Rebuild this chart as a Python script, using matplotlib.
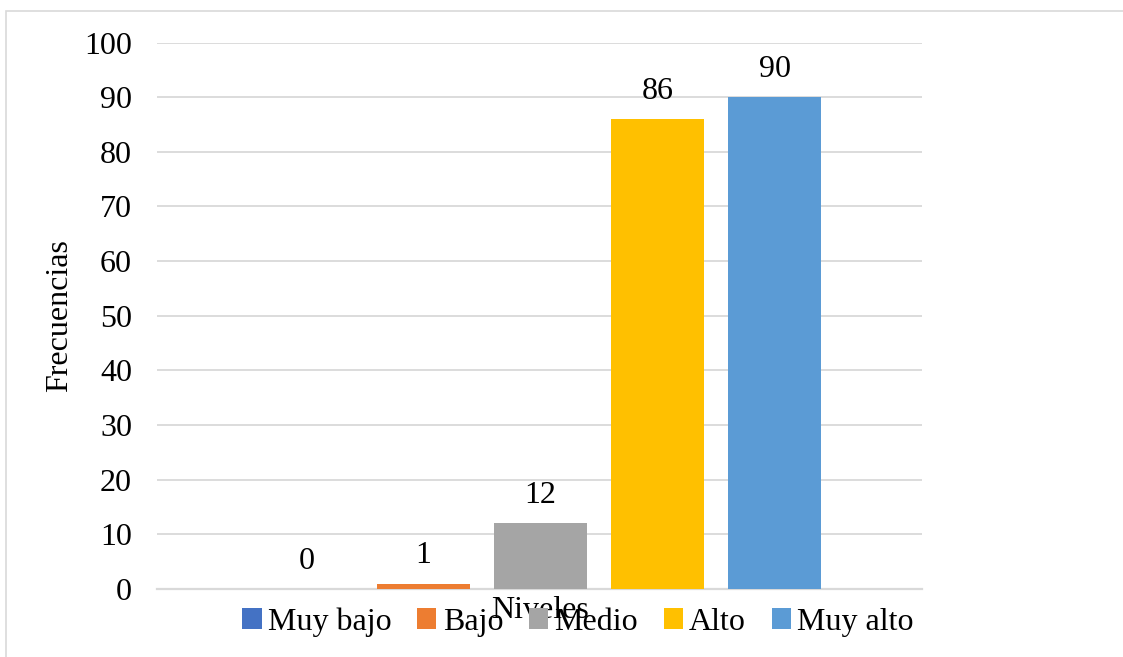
import matplotlib
matplotlib.use("Agg")
import matplotlib.pyplot as plt
from matplotlib.patches import Rectangle, Patch

niveles = ["Muy bajo", "Bajo", "Medio", "Alto", "Muy alto"]
frecuencias = [0, 1, 12, 86, 90]
colores = ["#4472C4", "#ED7D31", "#A5A5A5", "#FFC000", "#5B9BD5"]
yticks = [0, 10, 20, 30, 40, 50, 60, 70, 80, 90, 100]

plt.rcParams['font.family'] = ['Liberation Serif', 'DejaVu Serif']
FS = 23

W, H = 1123, 657
fig = plt.figure(figsize=(W / 100, H / 100), dpi=100)
fig.patch.set_facecolor("white")

# outer border
fig.patches.append(Rectangle((6 / W, -0.1), 1.2, 1 - 11 / H + 0.1, transform=fig.transFigure,
                             fill=False, edgecolor="#D9D9D9", linewidth=1.2))

ax = fig.add_axes([157 / W, 68 / H, 765 / W, 546.5 / H])
width = 0.795
n = len(niveles)
for i, (lab, v, c) in enumerate(zip(niveles, frecuencias, colores)):
    x = i - (n - 1) / 2
    ax.bar(x, v, width=width, color=c, label=lab, zorder=3)
    ax.text(x, v + 2.4, str(v), ha="center", va="bottom", fontsize=FS, color="black", zorder=4)

ax.set_xlim(-3.278, 3.26)
ax.set_ylim(0, 100)
ax.set_yticks(yticks)
ax.set_yticklabels([str(t) for t in yticks], fontsize=FS)
ax.tick_params(axis="y", length=0, pad=18)
ax.set_xticks([])
ax.grid(axis="y", color="#D9D9D9", linewidth=1.3, zorder=0)
for s in ["top", "right", "left"]:
    ax.spines[s].set_visible(False)
ax.spines["bottom"].set_color("#D9D9D9")
ax.spines["bottom"].set_linewidth(1.6)
ax.spines["bottom"].set_zorder(2)

fig.text(60 / W, 1 - 316 / H, "Frecuencias", rotation=90, ha="center", va="center", fontsize=FS)
fig.text(540 / W, 1 - 610 / H, "Niveles", ha="center", va="center", fontsize=FS)

handles = [Patch(facecolor=c, edgecolor="none") for c in colores]
leg = fig.legend(handles, niveles, loc="center", bbox_to_anchor=(578 / W, 1 - 622 / H),
                 ncol=5, frameon=False, fontsize=FS, handlelength=0.6, handleheight=0.6,
                 handletextpad=0.2, columnspacing=0.8)

fig.savefig("out.png", dpi=100, facecolor="white")
